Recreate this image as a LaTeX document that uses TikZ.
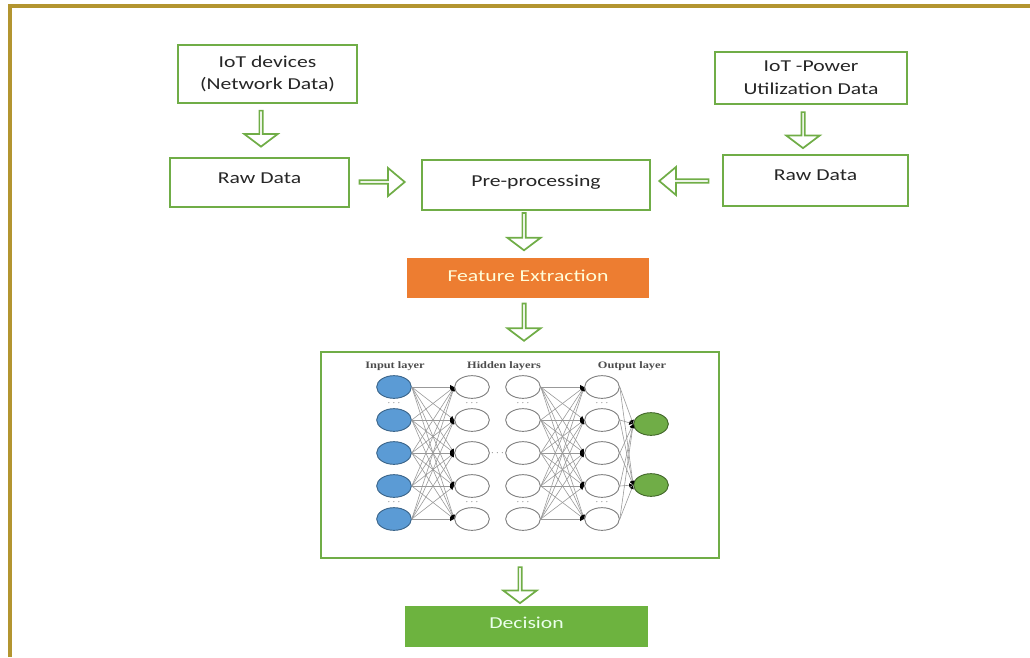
\documentclass[tikz,border=0pt]{standalone}
\usepackage{fontspec}
\setmainfont{Carlito}[FakeStretch=1.3]
\newfontfamily\nnfont{Liberation Serif}[FakeStretch=1.25]
\usetikzlibrary{shapes.geometric,shapes.arrows,arrows.meta}
\definecolor{boxgreen}{HTML}{70AD47}
\definecolor{decgreen}{HTML}{6DB33F}
\definecolor{framegold}{HTML}{B39530}
\definecolor{featorange}{HTML}{ED7D31}
\definecolor{inblue}{HTML}{5B9BD5}
\definecolor{txtgray}{HTML}{262626}
\tikzset{
	greenbox/.style={draw=boxgreen, line width=1.5pt, fill=white, align=center,
		inner sep=0pt, text=txtgray, font=\fontsize{12.5}{17}\selectfont},
	hollowarrow/.style={single arrow, draw=boxgreen, line width=1.3pt, fill=white,
		inner sep=0pt, minimum width=25pt, single arrow head extend=6pt,
		single arrow tip angle=106, minimum height=#1},
	hollowarrow/.default=27pt,
	neuron/.style={ellipse, draw=gray, line width=0.7pt, fill=white,
		minimum width=26pt, minimum height=17pt, inner sep=0pt},
	wire/.style={gray!80, line width=0.45pt, -{Latex[length=3pt,width=3.2pt,black]}},
	nnlabel/.style={font=\nnfont\bfseries\fontsize{7.4}{9}\selectfont, text=black!70},
	nndots/.style={font=\scriptsize, text=black!55, inner sep=0pt}
}

\begin{document}
\begin{tikzpicture}[x=0.75pt,y=-0.75pt]
		\useasboundingbox (0,0) rectangle (1030,657);
		% gold frame, top and left only
		\draw[framegold, line width=3pt] (10,657) -- (10,6) -- (1030,6);

		% data sources
		\node[greenbox, minimum width=134pt, minimum height=43.5pt] (iotnet) at (267.5,74) {IoT devices\\(Network Data)};
		\node[greenbox, minimum width=144pt, minimum height=39pt] (iotpow) at (811,78) {IoT -Power\\Utilization Data};
		\node[greenbox, minimum width=134pt, minimum height=37pt, text depth=7pt] (rawl) at (259.5,182.5) {Raw Data};
		\node[greenbox, minimum width=139pt, minimum height=38pt, text depth=8pt] (rawr) at (815.5,180.5) {Raw Data};
		\node[greenbox, minimum width=171pt, minimum height=37.5pt, text depth=7pt] (preproc) at (536,185) {Pre-processing};

		% -----------------------------------------------------
		\node[greenbox, draw=none, fill=featorange, text=yellow!15, minimum width=181.5pt, minimum height=30pt, text depth=4pt] (feat) at (528,278) {Feature Extraction};
		\node[greenbox, fill=none, minimum width=298.5pt, minimum height=154.5pt] (nnbox) at (520,455) {};
		\node[greenbox, draw=none, fill=decgreen, text=green!8, minimum width=182pt, minimum height=31pt, text depth=6pt] (decision) at (526.5,626.5) {Decision};

		% hollow block arrows
		\node[hollowarrow, rotate=-90] (a1) at (261,128) {};
		\node[hollowarrow, rotate=-90] (a2) at (803,129.5) {};
		\node[hollowarrow=34pt, minimum width=21pt, single arrow head extend=4.5pt, single arrow tip angle=80] (a3) at (381,182) {};
		\node[hollowarrow=37pt, minimum width=21pt, single arrow head extend=4.5pt, single arrow tip angle=80, rotate=180] (a4) at (685,181) {};
		\node[hollowarrow=28pt, rotate=-90] (a5) at (524,231) {};
		\node[hollowarrow=28pt, rotate=-90] (a6) at (524,321.5) {};
		\node[hollowarrow, rotate=-90] (a7) at (520,584.5) {};

		% -----------------------------------------------------
		% network inside the box
		\node[nnlabel] (lin) at (395,366) {Input layer};
		\node[nnlabel] (lhid) at (504,366) {Hidden layers};
		\node[nnlabel] (lout) at (632,366) {Output layer};

		\foreach \r [count=\i] in {387,420,453,486,519} {
			\node[neuron, fill=inblue, draw=inblue!65!black] (in\i) at (394,\r) {};
			\node[neuron] (ha\i) at (472,\r) {};
			\node[neuron] (hb\i) at (523,\r) {};
			\node[neuron] (out\i) at (602,\r) {};
		}
		\node[neuron, fill=boxgreen, draw=boxgreen!60!black] (res1) at (651,424) {};
		\node[neuron, fill=boxgreen, draw=boxgreen!60!black] (res2) at (651,485) {};

		\foreach \i in {1,...,5}
			\foreach \j in {1,...,5} {
				\draw[wire] (in\i.east) -- (ha\j.west);
				\draw[wire] (hb\i.east) -- (out\j.west);
			}
		\foreach \i in {1,...,5}
			\foreach \j in {1,2}
				\draw[wire] (out\i.east) -- (res\j.west);

		\foreach \x in {394,472,523,602} {
			\node[nndots] (dtop\x) at (\x,403) {$\cdots$};
			\node[nndots] (dbot\x) at (\x,502) {$\cdots$};
		}
		\node[nndots] (dmid) at (497.5,453) {$\cdots$};
\end{tikzpicture}
\end{document}
